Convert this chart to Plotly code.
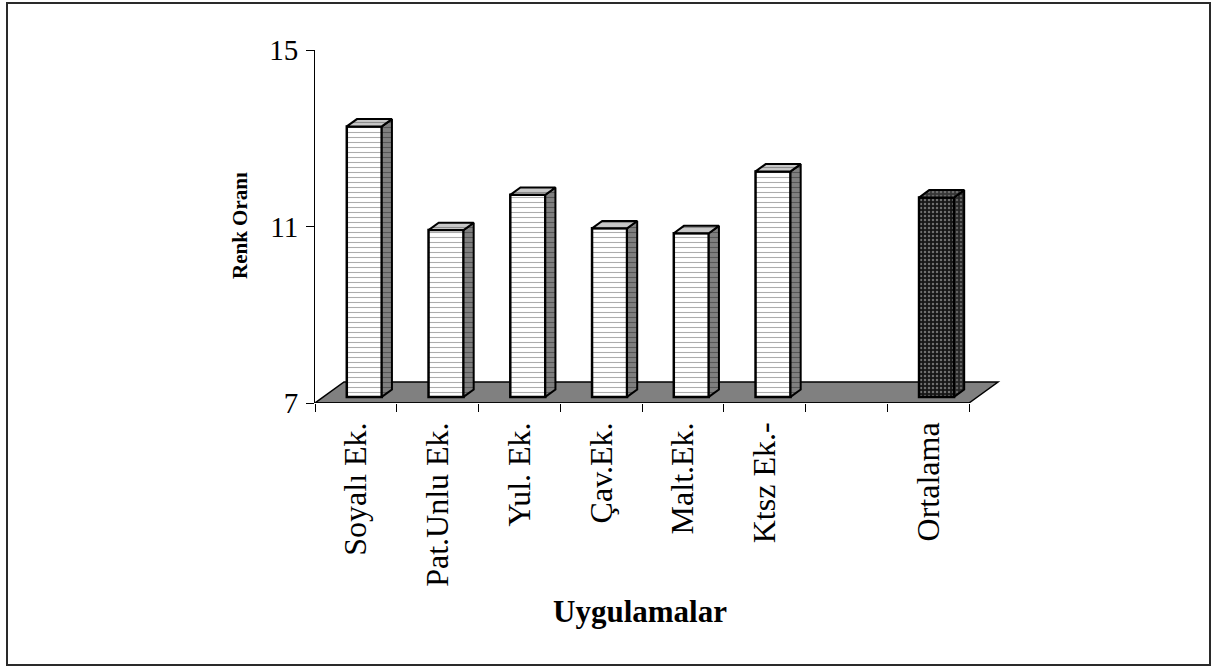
import plotly.graph_objects as go

# Colour ratio per treatment (last bar is the average)
categories = ["Soyalı Ek.", "Pat.Unlu Ek.", "Yul. Ek.", "Çav.Ek.", "Malt.Ek.", "Ktsz Ek.-", "", "Ortalama"]
values = [13.13, 10.78, 11.58, 10.82, 10.71, 12.11, None, 11.52]
y_ticks = [7, 11, 15]

W, H = 1216, 668
FONT = "Liberation Serif"

# pixel geometry of the plotting area
px_left, px_right = 315, 1001.7
px_y7, px_y15 = 403, 50
x_min, x_max = -0.5, 7.9
y_min, y_max = 7, 15
ux = (px_right - px_left) / (x_max - x_min)   # px per x unit
uy = (px_y7 - px_y15) / (y_max - y_min)       # px per y unit

# pseudo-3D depth of the floor (in axis units)
depth_dx = 29 / ux
depth_dy = 21 / uy
f_front, f_back = 0.29, 0.64
bar_w = 35 / ux

sx = f_front * depth_dx          # shift of the bar front plane
sy = f_front * depth_dy
ddx = (f_back - f_front) * depth_dx   # front-to-back offset of a bar
ddy = (f_back - f_front) * depth_dy

light = dict(face="white", side="#808080", top="#c8c8c8",
             fg_face="#5a5a5a", fg_side="#2a2a2a", fg_top="#505050", shape="-")
dark = dict(face="#161616", side="#262626", top="#363636",
            fg_face="#c8c8c8", fg_side="#a0a0a0", fg_top="#a0a0a0", shape=".")

fig = go.Figure()

for i, (cat, v) in enumerate(zip(categories, values)):
    if v is None:
        continue
    st = dark if cat == "Ortalama" else light
    xc = i + sx
    xl, xr = xc - bar_w / 2, xc + bar_w / 2
    yb, yt = y_min + sy, v + sy
    psize = 5 if st is light else 4
    psol = 0.22 if st is light else 0.3

    # right side face
    fig.add_trace(go.Scatter(
        x=[xr, xr + ddx, xr + ddx, xr, xr],
        y=[yb, yb + ddy, yt + ddy, yt, yb],
        mode="lines", fill="toself", fillcolor=st["side"],
        fillpattern=dict(shape=st["shape"], fgcolor=st["fg_side"],
                         bgcolor=st["side"], size=psize, solidity=psol),
        line=dict(color="black", width=2), hoverinfo="skip", showlegend=False))
    # top face
    fig.add_trace(go.Scatter(
        x=[xl, xl + ddx, xr + ddx, xr, xl],
        y=[yt, yt + ddy, yt + ddy, yt, yt],
        mode="lines", fill="toself", fillcolor=st["top"],
        fillpattern=dict(shape=st["shape"], fgcolor=st["fg_top"],
                         bgcolor=st["top"], size=psize, solidity=psol),
        line=dict(color="black", width=2), hoverinfo="skip", showlegend=False))
    # front face
    fig.add_trace(go.Bar(
        x=[xc], y=[v - y_min], base=[yb], width=[bar_w],
        marker=dict(color=st["face"],
                    line=dict(color="black", width=2.5),
                    pattern=dict(shape=st["shape"], fgcolor=st["fg_face"], bgcolor=st["face"],
                                 size=psize, solidity=psol)),
        hoverinfo="skip", showlegend=False))

# floor plate
n = len(categories)
floor_path = (f"M {x_min},{y_min} L {n - 0.5},{y_min} "
              f"L {n - 0.5 + depth_dx},{y_min + depth_dy} "
              f"L {x_min + depth_dx},{y_min + depth_dy} Z")
shapes = [
    dict(type="path", xref="x", yref="y", path=floor_path, layer="below",
         fillcolor="#808080", line=dict(color="black", width=1.5)),
    dict(type="line", xref="x", yref="y", x0=x_min, x1=n - 0.5,
         y0=y_min, y1=y_min, line=dict(color="black", width=1.5)),
    dict(type="rect", xref="paper", yref="paper",
         x0=7 / W, x1=1210 / W, y0=1 - 665 / H, y1=1 - 3 / H,
         line=dict(color="#2a2a2a", width=2)),
]

fig.update_layout(
    width=W, height=H, margin=dict(l=0, r=0, t=0, b=0, autoexpand=False), autosize=False,
    paper_bgcolor="white", plot_bgcolor="rgba(0,0,0,0)",
    font=dict(family=FONT, color="black"),
    barmode="overlay", showlegend=False,
    shapes=shapes,
    xaxis=dict(
        domain=[px_left / W, px_right / W], range=[x_min, x_max], automargin=False,
        tickvals=list(range(n)), ticktext=categories,
        tickangle=-90, tickfont=dict(family=FONT, size=32, color="black"),
        ticks="", showline=False, showgrid=False, zeroline=False,
        ticklabelstandoff=12,
        minor=dict(tickvals=[k - 0.5 for k in range(n + 1)],
                   ticks="outside", ticklen=8, tickwidth=1, tickcolor="black",
                   showgrid=False),
    ),
    yaxis=dict(
        domain=[1 - px_y7 / H, 1 - px_y15 / H], range=[y_min, y_max], automargin=False,
        tickvals=y_ticks, ticks="outside", ticklen=8, tickwidth=1, tickcolor="black",
        tickfont=dict(family=FONT, size=29, color="black"),
        showline=True, linecolor="black", linewidth=1,
        showgrid=False, zeroline=False, ticklabelstandoff=2,
    ),
    annotations=[
        dict(text="<b>Renk Oranı</b>", textangle=-90, xref="paper", yref="paper",
             x=240 / W, y=1 - 226 / H, xanchor="center", yanchor="middle",
             showarrow=False, font=dict(family=FONT, size=21, color="black")),
        dict(text="<b>Uygulamalar</b>", xref="paper", yref="paper",
             x=640 / W, y=1 - 611 / H, xanchor="center", yanchor="middle",
             showarrow=False, font=dict(family=FONT, size=31, color="black")),
    ],
)

fig.write_html("out.html")
